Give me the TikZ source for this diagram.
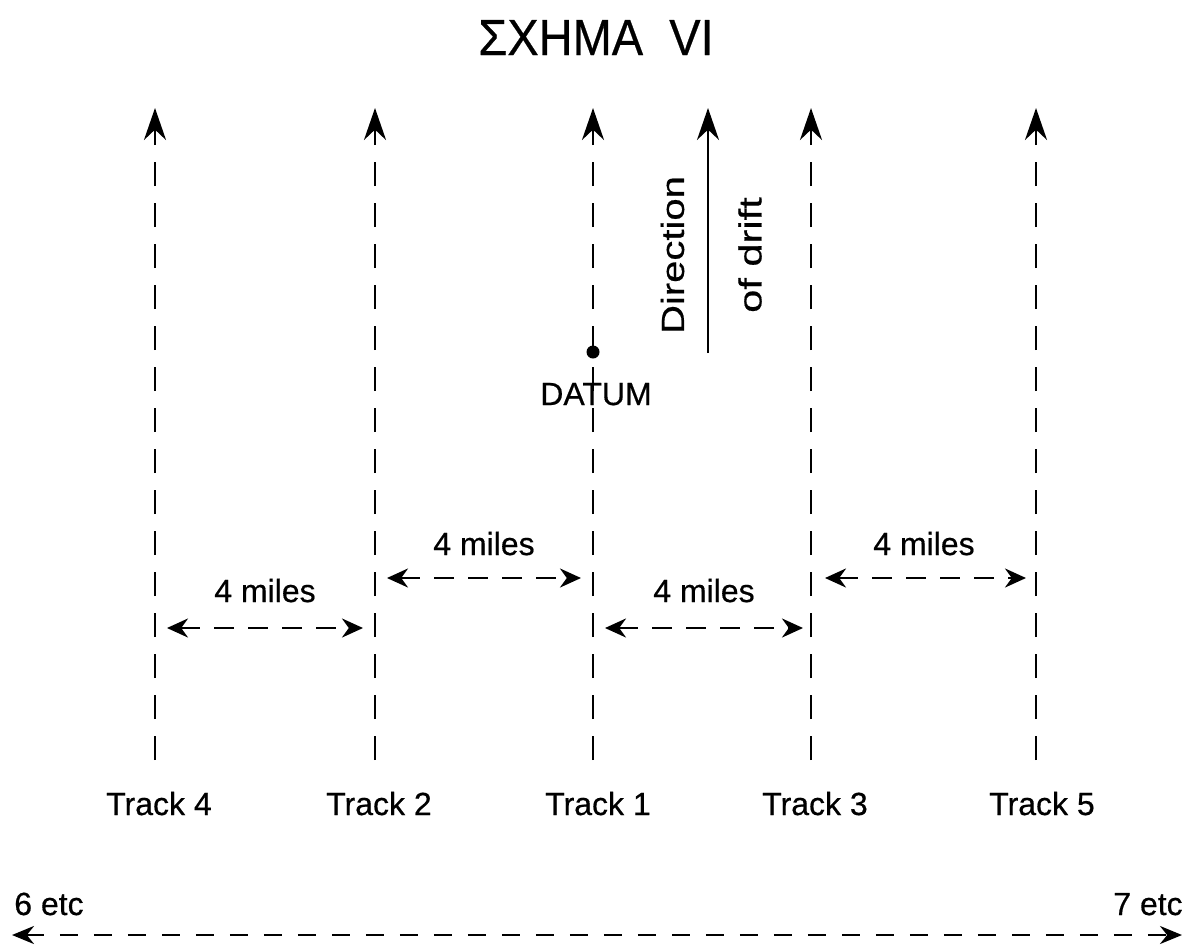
\documentclass[tikz,border=0pt]{standalone}
\usepackage{fontspec}
\setmainfont[FakeBold=0.5]{Liberation Sans}
\usetikzlibrary{arrows.meta}
\begin{document}
\begin{tikzpicture}[x=1pt,y=-1pt,
  track/.style={line width=2.8pt, dash pattern=on 24pt off 17pt,
    -{Stealth[length=32pt,width=22pt]}},
  drift/.style={line width=2.2pt, -{Stealth[length=32pt,width=22pt]}},
  span/.style={line width=2.8pt, dash pattern=on 20pt off 14pt,
    {Stealth[length=21pt,width=19pt]}-{Stealth[length=21pt,width=19pt]}},
  base/.style={line width=2.8pt, dash pattern=on 18pt off 16pt,
    {Stealth[length=22pt,width=18pt]}-{Stealth[length=22pt,width=18pt]}},
  lbl/.style={anchor=base, inner sep=0pt, font=\fontsize{32}{38}\selectfont},
  vlbl/.style={rotate=90, inner sep=0pt, font=\fontsize{32}{38}\selectfont},
]
\useasboundingbox (0,0) rectangle (1196,951);

% title
\node[anchor=base, inner sep=0pt, font=\fontsize{47}{56}\selectfont] (title) at (596,55) {\scalebox{1}[1.08]{ΣΧΗΜΑ\ \ VI}};

% track lines (bottom end and arrow tip)
\foreach \n/\x in {4/155, 2/375, 1/593, 3/811, 5/1036} {
  \coordinate (b\n) at (\x,760);
  \coordinate (t\n) at (\x,108);
  \draw[track] (b\n) -- (t\n);
}

% track labels
\node[lbl] (l4) at (159,815) {Track 4};
\node[lbl] (l2) at (379,815) {Track 2};
\node[lbl] (l1) at (598,815) {Track 1};
\node[lbl] (l3) at (815,815) {Track 3};
\node[lbl] (l5) at (1042,815) {Track 5};

% datum
\node[circle, fill, inner sep=0pt, minimum size=13pt] (datum) at (593,352) {};
\node[lbl] (datumlbl) at (596,405) {DATUM};

% direction of drift
\coordinate (d0) at (708,353);
\coordinate (d1) at (708,108);
\draw[drift] (d0) -- (d1);
\node[vlbl] (dir) at (672.5,255) {\scalebox{1.25}[1]{Direction}};
\node[vlbl] (ofd) at (750,255) {\scalebox{1.3}[1]{of drift}};

% track spacing
\coordinate (a0) at (167,628); \coordinate (a1) at (363,628);
\coordinate (c0) at (387,578); \coordinate (c1) at (581,578);
\coordinate (e0) at (605,628); \coordinate (e1) at (803,628);
\coordinate (g0) at (825,578); \coordinate (g1) at (1026,578);
\draw[span] (a0) -- (a1);
\draw[span] (c0) -- (c1);
\draw[span] (e0) -- (e1);
\draw[span] (g0) -- (g1);
\node[lbl] (ma) at (265,602) {4 miles};
\node[lbl] (mc) at (484,555) {4 miles};
\node[lbl] (me) at (704,602) {4 miles};
\node[lbl] (mg) at (924,555) {4 miles};

% further tracks
\coordinate (z0) at (12,935);
\coordinate (z1) at (1182,935);
\draw[base] (z0) -- (z1);
\node[lbl] (six) at (49,915) {6 etc};
\node[lbl] (seven) at (1148,915) {7 etc};
\end{tikzpicture}
\end{document}
